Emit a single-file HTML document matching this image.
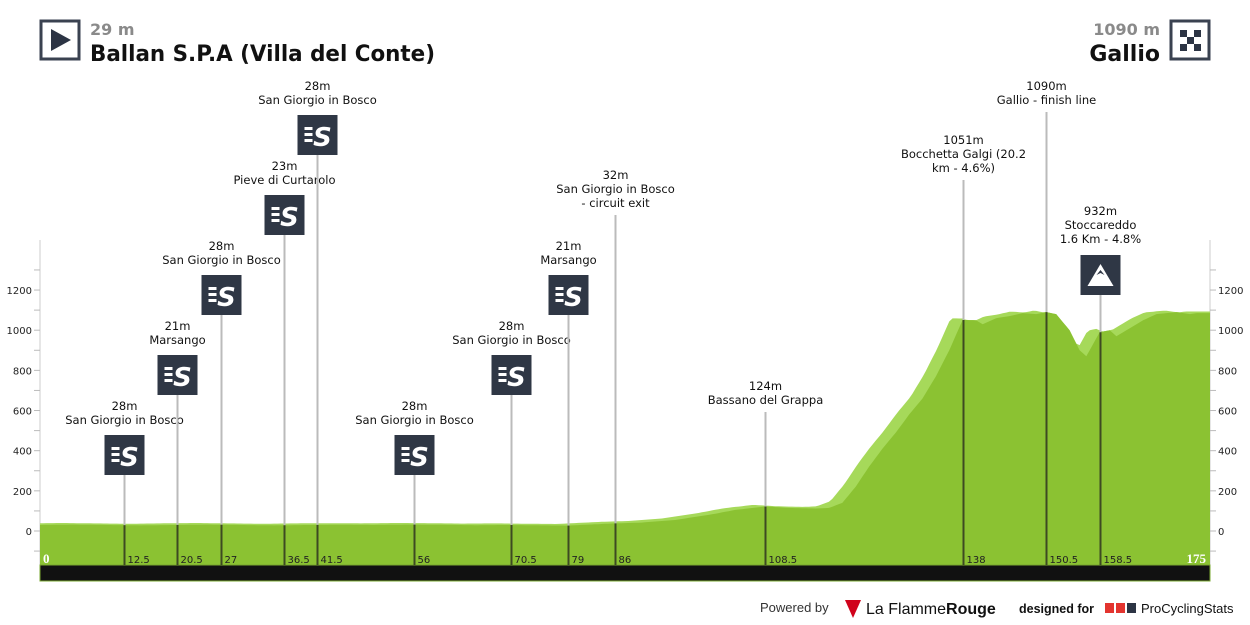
<!DOCTYPE html>
<html><head><meta charset="utf-8"><style>
html,body{margin:0;padding:0;background:#fff;width:1250px;height:625px;overflow:hidden}
svg{font-family:"DejaVu Sans","Liberation Sans",sans-serif}
</style></head><body>
<svg id="s" width="1250" height="625" viewBox="0 0 1250 625" xmlns="http://www.w3.org/2000/svg">
<rect x="41" y="21" width="38" height="38" fill="#fff" stroke="#3a4250" stroke-width="3"/>
<polygon points="51,29 51,51 71,40" fill="#2c3444"/>
<text x="90" y="35" font-size="16" font-weight="bold" fill="#8a8a8a">29 m</text>
<text x="90" y="61" font-size="22" font-weight="bold" fill="#111" textLength="345" lengthAdjust="spacingAndGlyphs">Ballan S.P.A (Villa del Conte)</text>
<text x="1160" y="35" font-size="16" font-weight="bold" fill="#8a8a8a" text-anchor="end">1090 m</text>
<text x="1160" y="61" font-size="22" font-weight="bold" fill="#111" text-anchor="end">Gallio</text>
<rect x="1171" y="21" width="38" height="38" fill="#fff" stroke="#3a4250" stroke-width="3"/>
<g fill="#2c3444">
<rect x="1180" y="30" width="7" height="7"/><rect x="1194" y="30" width="7" height="7"/>
<rect x="1187" y="37" width="7" height="7"/>
<rect x="1180" y="44" width="7" height="7"/><rect x="1194" y="44" width="7" height="7"/>
</g>
<g id="plot"></g>
<text x="760" y="612" font-size="13" fill="#333" font-family="Liberation Sans">Powered by</text>
<polygon points="845,600 861,600 853,618" fill="#d0021b"/>
<text x="866" y="614" font-size="16" fill="#111" font-family="Liberation Sans">La Flamme<tspan font-weight="bold">Rouge</tspan></text>
<text x="1019" y="613" font-size="12.5" font-weight="bold" fill="#111" font-family="Liberation Sans">designed for</text>
<rect x="1105" y="603" width="9" height="10" fill="#e3342f"/><rect x="1116" y="603" width="9" height="10" fill="#e3342f"/><rect x="1127" y="603" width="9" height="10" fill="#2c3444"/>
<text x="1141" y="613" font-size="13" fill="#111" font-family="Liberation Sans">ProCyclingStats</text>
</svg>
<script>
var NS="http://www.w3.org/2000/svg",g=document.getElementById("plot");
function X(k){return 40+k*1170/175}
function Y(m){return 531-m*0.2008}
function el(t,a,txt){var e=document.createElementNS(NS,t);for(var k in a)e.setAttribute(k,a[k]);if(txt!==undefined)e.textContent=txt;g.appendChild(e);return e}
var d=[[0,30],[5,32],[10,30],[15,28],[20,30],[25,32],[30,30],[35,28],[40,30],[45,31],[50,30],[55,32],[60,31],[65,29],[70,30],[75,28],[79,27],[86,38],[90,42],[95,55],[100,80],[104,105],[108.5,122],[112,115],[116,112],[118,115],[120,140],[122,220],[124,320],[126,410],[128,490],[130,580],[132,660],[134,770],[136,900],[138,1051],[140,1050],[141,1030],[143,1060],[145,1070],[147,1085],[149,1080],[150.5,1090],[152,1080],[154,1000],[155.5,900],[156.5,870],[158,960],[158.5,990],[160,1000],[161,970],[163,1010],[165,1050],[167,1080],[170,1090],[172,1080],[173,1085],[175,1085]];
function h(k){if(k<=0)return d[0][1];for(var i=1;i<d.length;i++){if(k<=d[i][0]){var a=d[i-1],b=d[i];return a[1]+(b[1]-a[1])*(k-a[0])/(b[0]-a[0])}}return d[d.length-1][1]}
var lp="40,565",dp="40,565";
for(var k=0;k<=175;k+=0.5){var hl=Math.max(h(k),h(Math.min(175,k+1.8))+8);lp+=" "+X(k).toFixed(1)+","+Y(hl).toFixed(1);dp+=" "+X(k).toFixed(1)+","+Y(h(k)).toFixed(1)}
lp+=" 1210,565";dp+=" 1210,565";
el("line",{x1:40,y1:240,x2:40,y2:580,stroke:"#ccc"});el("line",{x1:1210,y1:240,x2:1210,y2:580,stroke:"#ccc"});
for(var m=-100;m<=1300;m+=100){var y=Y(m);el("line",{x1:34,y1:y,x2:40,y2:y,stroke:"#bbb"});el("line",{x1:1210,y1:y,x2:1216,y2:y,stroke:"#bbb"});
 if(m%200==0&&m>=0){el("text",{x:32,y:y+4,"font-size":10,fill:"#222","text-anchor":"end"},m);el("text",{x:1218,y:y+4,"font-size":10,fill:"#222"},m)}}
el("polygon",{points:lp,fill:"#a6d95a"});el("polygon",{points:dp,fill:"#8bc232"});
el("rect",{x:40,y:565,width:1170,height:16,fill:"#111",stroke:"#7aa830","stroke-width":1});
el("text",{x:43,y:563,"font-size":13,"font-weight":"bold",fill:"#fff","font-family":"Liberation Serif"},"0");
el("text",{x:1206,y:563,"font-size":13,"font-weight":"bold",fill:"#fff","text-anchor":"end","font-family":"Liberation Serif"},"175");
var M=[[12.5,["28m","San Giorgio in Bosco"],424,435],[20.5,["21m","Marsango"],344,355],[27,["28m","San Giorgio in Bosco"],264,275],[36.5,["23m","Pieve di Curtarolo"],184,195],[41.5,["28m","San Giorgio in Bosco"],104,115],[56,["28m","San Giorgio in Bosco"],424,435],[70.5,["28m","San Giorgio in Bosco"],344,355],[79,["21m","Marsango"],264,275],[86,["32m","San Giorgio in Bosco","- circuit exit"],207,0],[108.5,["124m","Bassano del Grappa"],404,0],[138,["1051m","Bocchetta Galgi (20.2","km - 4.6%)"],172,0],[150.5,["1090m","Gallio - finish line"],104,0],[158.5,["932m","Stoccareddo","1.6 Km - 4.8%"],243,255]];
M.forEach(function(o){var x=Math.round(X(o[0]))+0.5,lines=o[1],last=o[2],ic=o[3];
 var top=ic?ic+40:last+8;
 el("line",{x1:x,y1:top,x2:x,y2:Y(h(o[0])),stroke:"#bbb","stroke-width":2});
 el("line",{x1:x,y1:Y(h(o[0])),x2:x,y2:565,stroke:"#3d4a22","stroke-width":2});
 for(var i=0;i<lines.length;i++)el("text",{x:x,y:last-(lines.length-1-i)*14,"font-size":11.5,fill:"#111","text-anchor":"middle"},lines[i]);
 el("text",{x:x+3,y:563,"font-size":10,fill:"#222"},o[0]);
 if(ic){el("rect",{x:x-20,y:ic,width:40,height:40,fill:"#2f3745"});
  if(o[0]==158.5){el("polygon",{points:(x-13)+","+(ic+31)+" "+x+","+(ic+9)+" "+(x+13)+","+(ic+31),fill:"#fff"});el("polygon",{points:(x-4)+","+(ic+20)+" "+x+","+(ic+15)+" "+(x+4)+","+(ic+20)+" "+x+","+(ic+18),fill:"#2f3745"});}
  else{for(var j=0;j<3;j++)el("rect",{x:x-13,y:ic+12+j*6,width:8,height:3,fill:"#fff"});
   el("text",{x:x+5,y:ic+31,"font-size":26,"font-weight":"bold",fill:"#fff","text-anchor":"middle","font-style":"italic"},"S");}}
});
</script>
</body></html>
